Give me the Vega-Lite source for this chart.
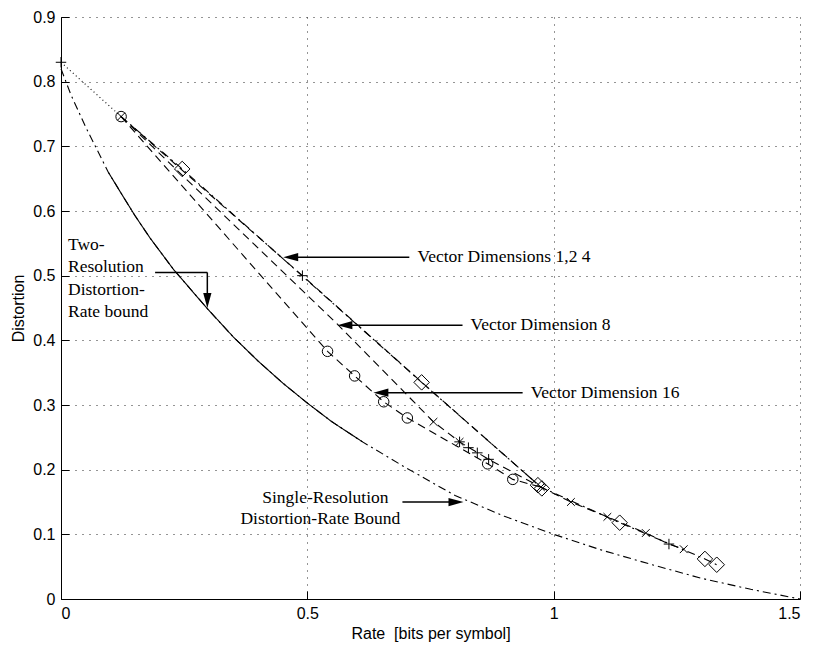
{
  "$schema": "https://vega.github.io/schema/vega-lite/v6.json",
  "width": 739,
  "height": 582,
  "autosize": "none",
  "padding": {"left": 61, "top": 17, "right": 14, "bottom": 47},
  "background": "white",
  "config": {
    "view": {"stroke": null},
    "axis": {
      "domainColor": "black", "domainWidth": 1,
      "ticks": true, "tickColor": "black", "tickWidth": 1,
      "labelFont": "Liberation Sans", "labelFontSize": 16, "labelColor": "black",
      "titleFont": "Liberation Sans", "titleFontSize": 16, "titleFontWeight": "normal", "titleColor": "black",
      "grid": true, "gridColor": "#2a2a2a", "gridDash": [1, 6], "gridOpacity": 1, "gridWidth": 1
    }
  },
  "resolve": {"scale": {"shape": "independent", "size": "independent", "strokeDash": "independent"}},
  "datasets": {
    "curves": [
      {"series": "Single-Resolution bound", "R": 0, "D": 0.82},
      {"series": "Single-Resolution bound", "R": 0.02, "D": 0.78},
      {"series": "Single-Resolution bound", "R": 0.05, "D": 0.73},
      {"series": "Single-Resolution bound", "R": 0.096, "D": 0.66},
      {"series": "Single-Resolution bound", "R": 0.12, "D": 0.63},
      {"series": "Single-Resolution bound", "R": 0.15, "D": 0.593},
      {"series": "Single-Resolution bound", "R": 0.181, "D": 0.558},
      {"series": "Single-Resolution bound", "R": 0.228, "D": 0.51},
      {"series": "Single-Resolution bound", "R": 0.297, "D": 0.449},
      {"series": "Single-Resolution bound", "R": 0.35, "D": 0.405},
      {"series": "Single-Resolution bound", "R": 0.4, "D": 0.368},
      {"series": "Single-Resolution bound", "R": 0.45, "D": 0.334},
      {"series": "Single-Resolution bound", "R": 0.5, "D": 0.303},
      {"series": "Single-Resolution bound", "R": 0.55, "D": 0.274},
      {"series": "Single-Resolution bound", "R": 0.612, "D": 0.243},
      {"series": "Single-Resolution bound", "R": 0.7, "D": 0.203},
      {"series": "Single-Resolution bound", "R": 0.8, "D": 0.16},
      {"series": "Single-Resolution bound", "R": 0.9, "D": 0.128},
      {"series": "Single-Resolution bound", "R": 1.0, "D": 0.1},
      {"series": "Single-Resolution bound", "R": 1.1, "D": 0.075},
      {"series": "Single-Resolution bound", "R": 1.2, "D": 0.053},
      {"series": "Single-Resolution bound", "R": 1.3, "D": 0.032},
      {"series": "Single-Resolution bound", "R": 1.4, "D": 0.015},
      {"series": "Single-Resolution bound", "R": 1.5, "D": 0.0},
      {"series": "Two-Resolution bound", "R": 0.096, "D": 0.66},
      {"series": "Two-Resolution bound", "R": 0.12, "D": 0.63},
      {"series": "Two-Resolution bound", "R": 0.15, "D": 0.593},
      {"series": "Two-Resolution bound", "R": 0.181, "D": 0.558},
      {"series": "Two-Resolution bound", "R": 0.228, "D": 0.51},
      {"series": "Two-Resolution bound", "R": 0.297, "D": 0.449},
      {"series": "Two-Resolution bound", "R": 0.35, "D": 0.405},
      {"series": "Two-Resolution bound", "R": 0.4, "D": 0.368},
      {"series": "Two-Resolution bound", "R": 0.45, "D": 0.334},
      {"series": "Two-Resolution bound", "R": 0.5, "D": 0.303},
      {"series": "Two-Resolution bound", "R": 0.55, "D": 0.274},
      {"series": "Two-Resolution bound", "R": 0.612, "D": 0.243},
      {"series": "Dimension 1", "R": 0.122, "D": 0.746},
      {"series": "Dimension 1", "R": 0.246, "D": 0.665},
      {"series": "Dimension 1", "R": 0.732, "D": 0.335},
      {"series": "Dimension 1", "R": 0.974, "D": 0.173},
      {"series": "Dimension 1", "R": 1.134, "D": 0.118},
      {"series": "Dimension 1", "R": 1.307, "D": 0.062},
      {"series": "Dimension 1", "R": 1.331, "D": 0.053},
      {"series": "Dimensions 2,4", "R": 0.122, "D": 0.746},
      {"series": "Dimensions 2,4", "R": 0.49, "D": 0.5},
      {"series": "Dimensions 2,4", "R": 0.74, "D": 0.33},
      {"series": "Dimensions 2,4", "R": 0.974, "D": 0.173},
      {"series": "Dimensions 2,4", "R": 1.035, "D": 0.15},
      {"series": "Dimensions 2,4", "R": 1.109, "D": 0.127},
      {"series": "Dimensions 2,4", "R": 1.187, "D": 0.102},
      {"series": "Dimensions 2,4", "R": 1.234, "D": 0.085},
      {"series": "Dimensions 2,4", "R": 1.264, "D": 0.077},
      {"series": "Dimension 8", "R": 0.122, "D": 0.746},
      {"series": "Dimension 8", "R": 0.561, "D": 0.425},
      {"series": "Dimension 8", "R": 0.756, "D": 0.274},
      {"series": "Dimension 8", "R": 0.809, "D": 0.243},
      {"series": "Dimension 8", "R": 0.868, "D": 0.216},
      {"series": "Dimension 8", "R": 0.974, "D": 0.173},
      {"series": "Dimension 16", "R": 0.122, "D": 0.746},
      {"series": "Dimension 16", "R": 0.541, "D": 0.383},
      {"series": "Dimension 16", "R": 0.596, "D": 0.345},
      {"series": "Dimension 16", "R": 0.655, "D": 0.305},
      {"series": "Dimension 16", "R": 0.703, "D": 0.28},
      {"series": "Dimension 16", "R": 0.866, "D": 0.209},
      {"series": "Dimension 16", "R": 0.917, "D": 0.185},
      {"series": "Dimension 16", "R": 0.974, "D": 0.173},
      {"series": "Zero-rate link", "R": 0, "D": 0.83},
      {"series": "Zero-rate link", "R": 0.122, "D": 0.746}
    ],
    "markers": [
      {"marker": "plus", "R": 0, "D": 0.83},
      {"marker": "circle", "R": 0.122, "D": 0.746},
      {"marker": "x", "R": 0.122, "D": 0.746},
      {"marker": "diamond", "R": 0.246, "D": 0.665},
      {"marker": "plus", "R": 0.49, "D": 0.5},
      {"marker": "circle", "R": 0.541, "D": 0.383},
      {"marker": "circle", "R": 0.596, "D": 0.345},
      {"marker": "circle", "R": 0.655, "D": 0.305},
      {"marker": "circle", "R": 0.703, "D": 0.28},
      {"marker": "diamond", "R": 0.732, "D": 0.335},
      {"marker": "x", "R": 0.756, "D": 0.274},
      {"marker": "x", "R": 0.809, "D": 0.243},
      {"marker": "plus", "R": 0.809, "D": 0.243},
      {"marker": "plus", "R": 0.827, "D": 0.234},
      {"marker": "plus", "R": 0.845, "D": 0.226},
      {"marker": "plus", "R": 0.868, "D": 0.216},
      {"marker": "circle", "R": 0.866, "D": 0.209},
      {"marker": "circle", "R": 0.917, "D": 0.185},
      {"marker": "diamond", "R": 0.968, "D": 0.176},
      {"marker": "diamond", "R": 0.976, "D": 0.171},
      {"marker": "x", "R": 0.974, "D": 0.173},
      {"marker": "x", "R": 1.035, "D": 0.15},
      {"marker": "x", "R": 1.109, "D": 0.127},
      {"marker": "diamond", "R": 1.134, "D": 0.118},
      {"marker": "x", "R": 1.187, "D": 0.102},
      {"marker": "plus", "R": 1.234, "D": 0.085},
      {"marker": "x", "R": 1.264, "D": 0.077},
      {"marker": "diamond", "R": 1.307, "D": 0.062},
      {"marker": "diamond", "R": 1.331, "D": 0.053}
    ],
    "leftLabels": [
      {"text": "Vector Dimensions 1,2 4", "R": 0.7236, "D": 0.5286},
      {"text": "Vector Dimension 8", "R": 0.8313, "D": 0.4235},
      {"text": "Vector Dimension 16", "R": 0.9533, "D": 0.319},
      {"text": "Two-", "R": 0.0142, "D": 0.547},
      {"text": "Resolution", "R": 0.0142, "D": 0.513},
      {"text": "Distortion-", "R": 0.0142, "D": 0.4776},
      {"text": "Rate bound", "R": 0.0142, "D": 0.4436}
    ],
    "centerLabels": [
      {"text": "Single-Resolution", "R": 0.5366, "D": 0.156},
      {"text": "Distortion-Rate Bound", "R": 0.5264, "D": 0.1236}
    ],
    "arrows": [
      {"R": 0.707, "D": 0.5286, "R2": 0.46, "D2": 0.5286},
      {"R": 0.815, "D": 0.4235, "R2": 0.57, "D2": 0.4235},
      {"R": 0.937, "D": 0.319, "R2": 0.643, "D2": 0.319},
      {"R": 0.191, "D": 0.505, "R2": 0.297, "D2": 0.505},
      {"R": 0.297, "D": 0.505, "R2": 0.297, "D2": 0.457},
      {"R": 0.693, "D": 0.15, "R2": 0.808, "D2": 0.15}
    ],
    "heads": [
      {"dir": "left", "R": 0.451, "D": 0.5286},
      {"dir": "left", "R": 0.561, "D": 0.4235},
      {"dir": "left", "R": 0.634, "D": 0.319},
      {"dir": "down", "R": 0.297, "D": 0.45},
      {"dir": "right", "R": 0.817, "D": 0.15}
    ]
  },
  "encoding": {
    "x": {
      "field": "R", "type": "quantitative",
      "scale": {"domain": [0, 1.5], "nice": false, "zero": false},
      "axis": {"title": "Rate \u00a0[bits per symbol]", "values": [0, 0.5, 1, 1.5], "format": "~g", "tickSize": -8, "labelPadding": 14, "titlePadding": 4}
    },
    "y": {
      "field": "D", "type": "quantitative",
      "scale": {"domain": [0, 0.9], "nice": false, "zero": false},
      "axis": {"title": "Distortion", "values": [0, 0.1, 0.2, 0.3, 0.4, 0.5, 0.6, 0.7, 0.8, 0.9], "format": "~g", "tickSize": -8, "labelPadding": 14, "titlePadding": 6}
    }
  },
  "layer": [
    {
      "data": {"name": "curves"},
      "mark": {"type": "line", "color": "black", "strokeWidth": 1.1},
      "encoding": {
        "strokeDash": {
          "field": "series", "type": "nominal", "legend": null,
          "scale": {
            "domain": ["Single-Resolution bound", "Two-Resolution bound", "Dimension 1", "Dimensions 2,4", "Dimension 8", "Dimension 16", "Zero-rate link"],
            "range": [[8, 4, 2, 4], [1, 0], [8, 4, 2, 4], [8, 5], [8, 5], [8, 5], [1, 3]]
          }
        }
      }
    },
    {
      "data": {"name": "markers"},
      "mark": {"type": "point", "filled": false, "color": "black", "strokeWidth": 1, "opacity": 1},
      "encoding": {
        "shape": {
          "field": "marker", "type": "nominal", "legend": null,
          "scale": {
            "domain": ["circle", "diamond", "plus", "x"],
            "range": ["circle", "diamond", "M-1,0L1,0M0,-1L0,1", "M-1,-1L1,1M-1,1L1,-1"]
          }
        },
        "size": {
          "field": "marker", "type": "nominal", "legend": null,
          "scale": {"type": "ordinal", "domain": ["circle", "diamond", "plus", "x"], "range": [110, 240, 110, 60]}
        }
      }
    },
    {
      "data": {"name": "arrows"},
      "mark": {"type": "rule", "color": "black", "strokeWidth": 1.5},
      "encoding": {
        "x2": {"field": "R2"},
        "y2": {"field": "D2"}
      }
    },
    {
      "data": {"name": "heads"},
      "mark": {"type": "point", "filled": true, "color": "black", "opacity": 1, "size": 225, "strokeWidth": 0},
      "encoding": {
        "shape": {
          "field": "dir", "type": "nominal", "legend": null,
          "scale": {
            "domain": ["left", "down", "right"],
            "range": ["M0,0L2,-0.55L2,0.55Z", "M0,0L-0.55,-2L0.55,-2Z", "M0,0L-2,-0.55L-2,0.55Z"]
          }
        }
      }
    },
    {
      "data": {"name": "leftLabels"},
      "mark": {"type": "text", "align": "left", "baseline": "middle", "font": "Liberation Serif", "fontSize": 17.5, "color": "black"},
      "encoding": {"text": {"field": "text"}}
    },
    {
      "data": {"name": "centerLabels"},
      "mark": {"type": "text", "align": "center", "baseline": "middle", "font": "Liberation Serif", "fontSize": 17.5, "color": "black"},
      "encoding": {"text": {"field": "text"}}
    }
  ]
}
